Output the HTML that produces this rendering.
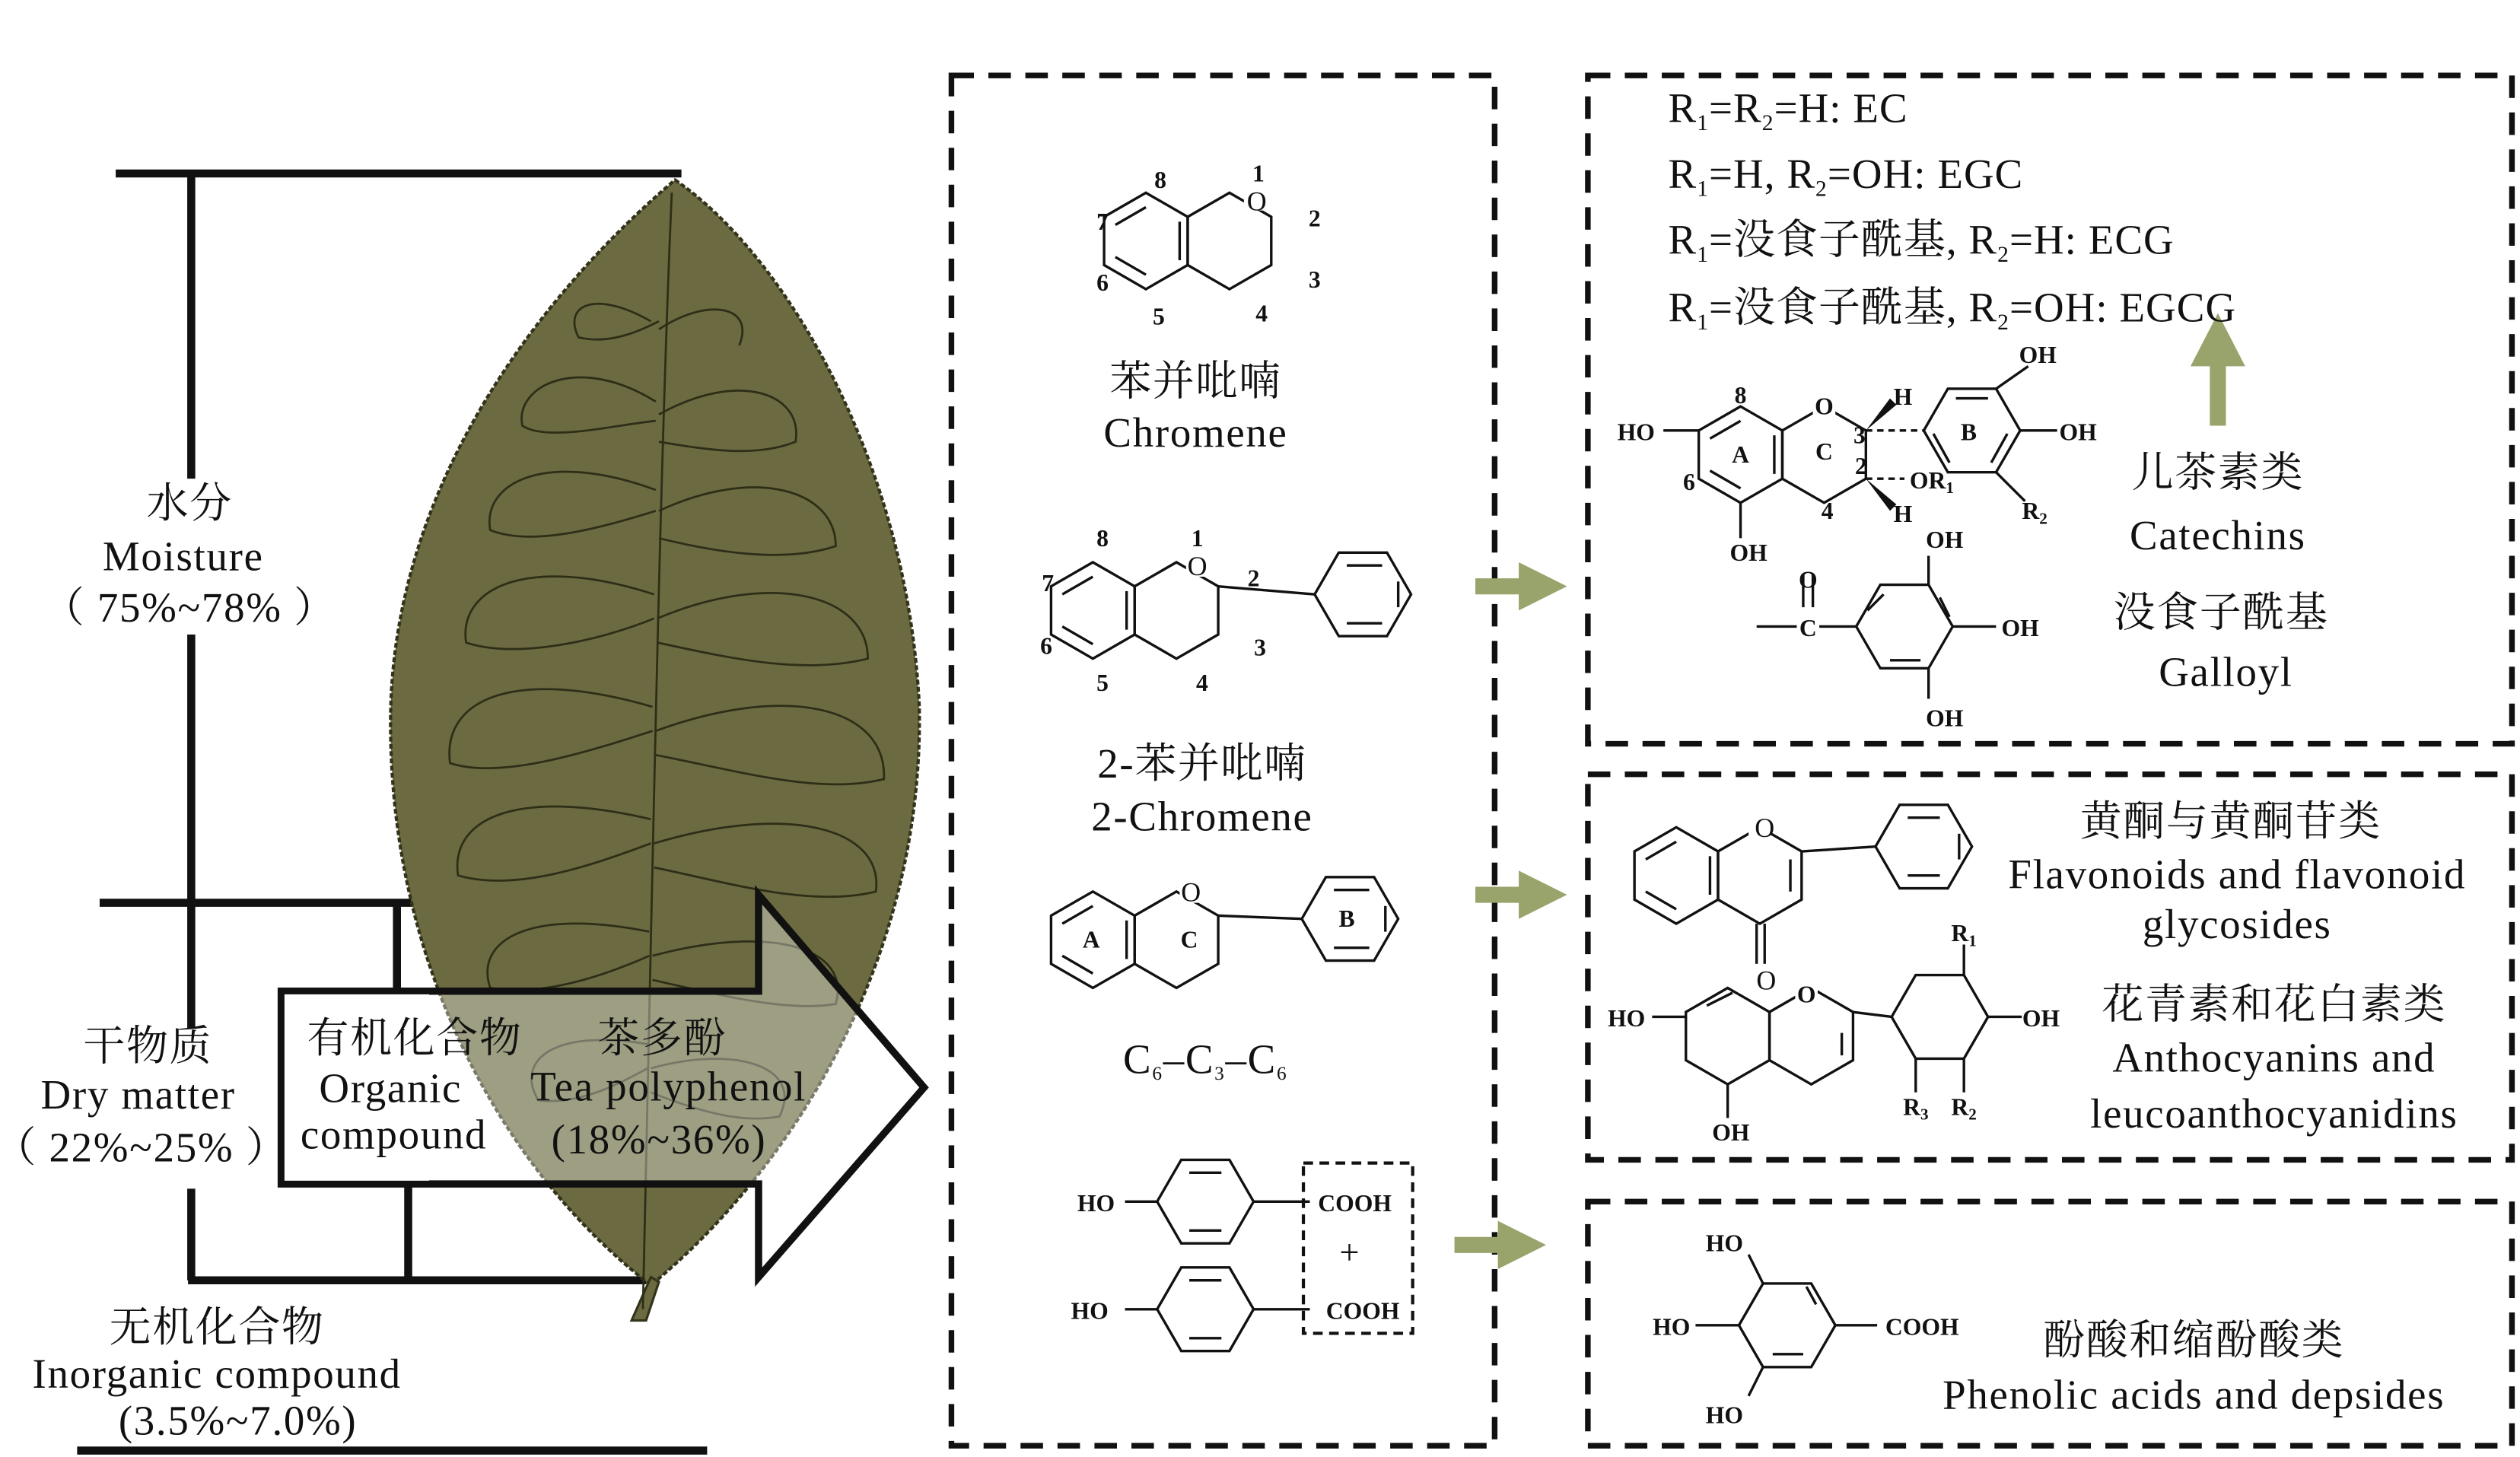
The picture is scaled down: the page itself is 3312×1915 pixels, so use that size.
<!DOCTYPE html>
<html><head><meta charset="utf-8"><style>
html,body{margin:0;padding:0;background:#fff;}
svg{display:block;}
text{font-family:"Liberation Serif","Noto Serif CJK SC","Noto Sans CJK SC",serif;fill:#111;}
.t{font-size:26px;text-anchor:middle;letter-spacing:0.8px;}
.s{font-size:15px;font-weight:bold;text-anchor:middle;letter-spacing:0;}
.b{stroke:#111;stroke-width:1.6;fill:none;}
</style></head><body>
<svg width="3312" height="1915" viewBox="0 0 1568 907" preserveAspectRatio="none" xmlns="http://www.w3.org/2000/svg">
<defs>
<polygon id="h" points="0,-30 26,-15 26,15 0,30 -26,15 -26,-15" class="b"/>
<polygon id="hr" points="30,0 15,26 -15,26 -30,0 -15,-26 15,-26" class="b"/>
</defs>
<g stroke="#111" stroke-width="5" fill="none">
<line x1="72" y1="108" x2="424" y2="108"/>
<line x1="119" y1="108" x2="119" y2="298"/>
<line x1="119" y1="395" x2="119" y2="640"/>
<line x1="119" y1="740" x2="119" y2="797"/>
<line x1="62" y1="562" x2="265" y2="562"/>
<line x1="247" y1="562" x2="247" y2="617"/>
<line x1="254" y1="737" x2="254" y2="797"/>
<line x1="117" y1="797" x2="402" y2="797"/>
<line x1="48" y1="903" x2="440" y2="903"/>
</g>
<path d="M420,112 C490,160 565,290 572,440 C575,600 490,730 405,800 C320,735 243,610 243,450 C243,300 340,180 420,112 Z" fill="#6b6a40" stroke="#33331c" stroke-width="2" stroke-dasharray="3,1.5"/>
<path d="M405,795 L393,822 L402,822 L410,798 Z" fill="#6b6a40" stroke="#33331c" stroke-width="1.5"/>
<g stroke="#2e2e18" stroke-width="1.3" fill="none">
<path d="M418,120 C410,300 405,600 400,815"/>
<path d="M405,200 C370,180 350,190 360,210 C380,215 400,205 410,200"/>
<path d="M410,205 C440,185 470,190 460,215"/>
<path d="M408,250 C360,220 320,240 325,265 C340,275 380,265 408,262"/>
<path d="M410,258 C460,230 500,245 495,275 C470,285 440,280 410,275"/>
<path d="M408,305 C340,280 300,300 305,330 C330,340 370,330 408,318"/>
<path d="M410,318 C470,290 520,305 520,340 C490,350 450,345 410,335"/>
<path d="M407,370 C330,345 285,365 290,400 C320,410 370,400 407,385"/>
<path d="M409,385 C480,355 540,370 540,410 C500,420 455,410 409,400"/>
<path d="M406,440 C320,415 275,435 280,475 C310,485 360,470 406,455"/>
<path d="M408,455 C490,425 552,440 550,485 C510,495 460,480 408,470"/>
<path d="M405,510 C320,490 280,510 285,545 C320,555 365,540 405,525"/>
<path d="M407,525 C490,500 550,515 545,555 C505,565 455,550 407,540"/>
<path d="M404,580 C330,565 295,585 305,615 C335,620 370,610 404,595"/>
<path d="M406,595 C480,575 530,590 520,625 C490,630 450,620 406,610"/>
<path d="M403,650 C345,640 320,660 335,685 C360,688 385,675 403,665"/>
<path d="M405,665 C460,650 500,665 485,695 C460,700 430,690 405,680"/>
</g>
<polygon points="175,617 472,617 472,557 575,677 472,795 472,737 175,737" fill="#fff" fill-opacity="0.35" stroke="#111" stroke-width="4.5"/>
<rect x="177" y="619" width="90" height="116" fill="#fff"/>
<text class="t" x="118" y="322">水分</text>
<text class="t" x="114" y="355">Moisture</text>
<text class="t" x="118" y="387">（ 75%~78% ）</text>
<text class="t" x="92" y="660">干物质</text>
<text class="t" x="86" y="690">Dry matter</text>
<text class="t" x="88" y="723">（ 22%~25% ）</text>
<text class="t" x="258" y="655">有机化合物</text>
<text class="t" x="243" y="686">Organic</text>
<text class="t" x="245" y="715">compound</text>
<text class="t" x="412" y="655">茶多酚</text>
<text class="t" x="416" y="685">Tea polyphenol</text>
<text class="t" x="410" y="718">(18%~36%)</text>
<text class="t" x="135" y="835">无机化合物</text>
<text class="t" x="135" y="864">Inorganic compound</text>
<text class="t" x="148" y="893">(3.5%~7.0%)</text>
<g stroke="#111" stroke-width="3.5" fill="none" stroke-dasharray="14,9">
<rect x="592" y="47" width="338" height="853"/>
<rect x="988" y="47" width="575" height="416"/>
<rect x="988" y="482" width="575" height="240"/>
<rect x="988" y="748" width="575" height="152"/>
</g>
<g fill="#98a46b">
<polygon points="918,360 945,360 945,350 975,365 945,380 945,370 918,370"/>
<polygon points="918,552 945,552 945,542 975,557 945,572 945,562 918,562"/>
<polygon points="905,770 932,770 932,760 962,775 932,790 932,780 905,780"/>
<polygon points="1375,265 1375,228 1363,228 1380,195 1397,228 1385,228 1385,265"/>
</g>
<use href="#h" x="713" y="150"/><use href="#h" x="765" y="150"/>
<g class="b"><line x1="694" y1="140" x2="713" y2="129"/><line x1="694" y1="160" x2="713" y2="171"/><line x1="734" y1="138" x2="734" y2="162"/></g>
<rect x="774" y="115" width="14" height="16" fill="#fff"/>
<text class="s" x="782" y="131" style="font-weight:normal;font-size:17px">O</text>
<g style="font-size:14px"><text class="s" x="722" y="117">8</text><text class="s" x="783" y="113">1</text><text class="s" x="818" y="141">2</text><text class="s" x="818" y="179">3</text><text class="s" x="785" y="200">4</text><text class="s" x="721" y="202">5</text><text class="s" x="686" y="181">6</text><text class="s" x="686" y="143">7</text></g>
<text class="t" x="744" y="246">苯并吡喃</text>
<text class="t" x="744" y="278">Chromene</text>
<use href="#h" x="680" y="380"/><use href="#h" x="732" y="380"/><use href="#hr" x="848" y="370"/>
<g class="b"><line x1="661" y1="370" x2="680" y2="359"/><line x1="661" y1="390" x2="680" y2="401"/><line x1="701" y1="368" x2="701" y2="392"/><line x1="758" y1="365" x2="818" y2="370"/><line x1="838" y1="352" x2="860" y2="352"/><line x1="838" y1="388" x2="860" y2="388"/><line x1="870" y1="362" x2="870" y2="378"/></g>
<rect x="738" y="343" width="14" height="16" fill="#fff"/>
<text class="s" x="745" y="358" style="font-weight:normal;font-size:17px">O</text>
<g style="font-size:14px"><text class="s" x="686" y="340">8</text><text class="s" x="745" y="340">1</text><text class="s" x="780" y="365">2</text><text class="s" x="784" y="408">3</text><text class="s" x="748" y="430">4</text><text class="s" x="686" y="430">5</text><text class="s" x="651" y="407">6</text><text class="s" x="652" y="368">7</text></g>
<text class="t" x="748" y="484">2-苯并吡喃</text>
<text class="t" x="748" y="517">2-Chromene</text>
<use href="#h" x="680" y="585"/><use href="#h" x="732" y="585"/><use href="#hr" x="840" y="572"/>
<g class="b"><line x1="661" y1="575" x2="680" y2="564"/><line x1="661" y1="595" x2="680" y2="606"/><line x1="701" y1="573" x2="701" y2="597"/><line x1="758" y1="570" x2="810" y2="572"/><line x1="830" y1="554" x2="852" y2="554"/><line x1="830" y1="590" x2="852" y2="590"/><line x1="862" y1="564" x2="862" y2="580"/></g>
<rect x="734" y="546" width="14" height="16" fill="#fff"/>
<text class="s" x="741" y="561" style="font-weight:normal;font-size:17px">O</text>
<text class="s" x="679" y="590">A</text><text class="s" x="740" y="590">C</text><text class="s" x="838" y="577">B</text>
<text class="t" x="750" y="668">C<tspan font-size="12" dy="4">6</tspan><tspan dy="-4">–C</tspan><tspan font-size="12" dy="4">3</tspan><tspan dy="-4">–C</tspan><tspan font-size="12" dy="4">6</tspan></text>
<use href="#hr" x="750" y="748"/><use href="#hr" x="750" y="815"/>
<g class="b"><line x1="700" y1="748" x2="720" y2="748"/><line x1="780" y1="748" x2="815" y2="748"/><line x1="700" y1="815" x2="720" y2="815"/><line x1="780" y1="815" x2="815" y2="815"/><line x1="740" y1="730" x2="760" y2="730"/><line x1="740" y1="766" x2="760" y2="766"/><line x1="740" y1="797" x2="760" y2="797"/><line x1="740" y1="833" x2="760" y2="833"/></g>
<rect x="811" y="724" width="68" height="106" fill="none" stroke="#111" stroke-width="2" stroke-dasharray="6,4"/>
<g style="font-size:15px"><text class="s" x="682" y="754">HO</text><text class="s" x="843" y="754">COOH</text><text class="s" x="678" y="821">HO</text><text class="s" x="848" y="821">COOH</text></g>
<text class="t" x="840" y="787" style="font-size:22px">+</text>
<g style="font-size:26px;letter-spacing:0.5px;font-family:'Liberation Serif','Noto Serif CJK SC',serif">
<text x="1038" y="76">R<tspan font-size="14" dy="5">1</tspan><tspan dy="-5">=R</tspan><tspan font-size="14" dy="5">2</tspan><tspan dy="-5">=H: EC</tspan></text>
<text x="1038" y="117">R<tspan font-size="14" dy="5">1</tspan><tspan dy="-5">=H, R</tspan><tspan font-size="14" dy="5">2</tspan><tspan dy="-5">=OH: EGC</tspan></text>
<text x="1038" y="158">R<tspan font-size="14" dy="5">1</tspan><tspan dy="-5">=没食子酰基, R</tspan><tspan font-size="14" dy="5">2</tspan><tspan dy="-5">=H: ECG</tspan></text>
<text x="1038" y="200">R<tspan font-size="14" dy="5">1</tspan><tspan dy="-5">=没食子酰基, R</tspan><tspan font-size="14" dy="5">2</tspan><tspan dy="-5">=OH: EGCG</tspan></text>
</g>
<use href="#h" x="1083" y="283"/><use href="#h" x="1135" y="283"/><use href="#hr" x="1227" y="268"/>
<g class="b"><line x1="1064" y1="273" x2="1083" y2="262"/><line x1="1064" y1="293" x2="1083" y2="304"/><line x1="1104" y1="271" x2="1104" y2="295"/><line x1="1035" y1="268" x2="1057" y2="268"/><line x1="1083" y1="313" x2="1083" y2="335"/>
<line x1="1161" y1="268" x2="1197" y2="268" stroke-dasharray="4,3"/><line x1="1161" y1="298" x2="1185" y2="298" stroke-dasharray="4,3"/>
<line x1="1242" y1="242" x2="1262" y2="228"/><line x1="1257" y1="268" x2="1280" y2="268"/><line x1="1242" y1="294" x2="1260" y2="312"/>
<line x1="1217" y1="248" x2="1237" y2="248"/><line x1="1203" y1="270" x2="1213" y2="288"/><line x1="1249" y1="270" x2="1239" y2="288"/></g>
<polygon points="1161,268 1176,248 1180,252" fill="#111"/><polygon points="1161,298 1176,318 1180,314" fill="#111"/>
<rect x="1128" y="245" width="14" height="14" fill="#fff"/>
<g style="font-size:15px"><text class="s" x="1135" y="258">O</text><text class="s" x="1018" y="274">HO</text><text class="s" x="1083" y="251">8</text><text class="s" x="1051" y="305">6</text><text class="s" x="1137" y="323">4</text><text class="s" x="1083" y="288">A</text><text class="s" x="1135" y="286">C</text><text class="s" x="1225" y="274">B</text><text class="s" x="1157" y="276">3</text><text class="s" x="1158" y="295">2</text><text class="s" x="1184" y="252">H</text><text class="s" x="1184" y="325">H</text><text class="s" x="1202" y="304">OR<tspan font-size="10" dy="3">1</tspan></text><text class="s" x="1268" y="226">OH</text><text class="s" x="1293" y="274">OH</text><text class="s" x="1266" y="323">R<tspan font-size="10" dy="3">2</tspan></text><text class="s" x="1088" y="349">OH</text></g>
<use href="#hr" x="1185" y="390"/>
<g class="b"><line x1="1093" y1="390" x2="1118" y2="390"/><line x1="1132" y1="390" x2="1155" y2="390"/><line x1="1122" y1="358" x2="1122" y2="378"/><line x1="1128" y1="358" x2="1128" y2="378"/><line x1="1200" y1="364" x2="1200" y2="346"/><line x1="1215" y1="390" x2="1242" y2="390"/><line x1="1200" y1="416" x2="1200" y2="435"/><line x1="1162" y1="380" x2="1172" y2="370"/><line x1="1207" y1="372" x2="1213" y2="384"/><line x1="1176" y1="411" x2="1195" y2="411"/></g>
<g style="font-size:15px"><text class="s" x="1125" y="366">O</text><text class="s" x="1125" y="396">C</text><text class="s" x="1210" y="341">OH</text><text class="s" x="1257" y="396">OH</text><text class="s" x="1210" y="452">OH</text></g>
<text class="t" x="1380" y="303">儿茶素类</text>
<text class="t" x="1380" y="342">Catechins</text>
<text class="t" x="1382" y="390">没食子酰基</text>
<text class="t" x="1385" y="427">Galloyl</text>
<use href="#h" x="1043" y="545"/><use href="#h" x="1095" y="545"/><use href="#hr" x="1197" y="527"/>
<g class="b"><line x1="1024" y1="535" x2="1043" y2="524"/><line x1="1024" y1="555" x2="1043" y2="566"/><line x1="1064" y1="533" x2="1064" y2="557"/><line x1="1121" y1="530" x2="1167" y2="527"/><line x1="1114" y1="535" x2="1114" y2="555"/><line x1="1093" y1="575" x2="1093" y2="600"/><line x1="1098" y1="575" x2="1098" y2="600"/><line x1="1187" y1="509" x2="1207" y2="509"/><line x1="1187" y1="545" x2="1207" y2="545"/><line x1="1219" y1="519" x2="1219" y2="535"/></g>
<rect x="1088" y="507" width="14" height="15" fill="#fff"/>
<text class="s" x="1098" y="521" style="font-weight:normal;font-size:17px">O</text>
<text class="s" x="1099" y="616" style="font-weight:normal;font-size:17px">O</text>
<text class="t" x="1388" y="520">黄酮与黄酮苷类</text>
<text class="t" x="1392" y="553">Flavonoids and flavonoid</text>
<text class="t" x="1392" y="584">glycosides</text>
<use href="#h" x="1075" y="645"/><use href="#h" x="1127" y="645"/><use href="#hr" x="1207" y="633"/>
<g class="b"><line x1="1028" y1="633" x2="1049" y2="633"/><line x1="1075" y1="675" x2="1075" y2="696"/><line x1="1153" y1="630" x2="1177" y2="633"/><line x1="1237" y1="633" x2="1258" y2="633"/><line x1="1222" y1="607" x2="1222" y2="588"/><line x1="1192" y1="659" x2="1192" y2="680"/><line x1="1222" y1="659" x2="1222" y2="680"/><line x1="1146" y1="643" x2="1146" y2="657"/><line x1="1062" y1="626" x2="1078" y2="618"/></g>
<rect x="1117" y="610" width="14" height="14" fill="#fff"/>
<g style="font-size:15px"><text class="s" x="1124" y="624">O</text><text class="s" x="1012" y="639">HO</text><text class="s" x="1077" y="710">OH</text><text class="s" x="1270" y="639">OH</text><text class="s" x="1222" y="586">R<tspan font-size="10" dy="3">1</tspan></text><text class="s" x="1192" y="694">R<tspan font-size="10" dy="3">3</tspan></text><text class="s" x="1222" y="694">R<tspan font-size="10" dy="3">2</tspan></text></g>
<text class="t" x="1415" y="634">花青素和花白素类</text>
<text class="t" x="1415" y="667">Anthocyanins and</text>
<text class="t" x="1415" y="702">leucoanthocyanidins</text>
<use href="#hr" x="1112" y="825"/>
<g class="b"><line x1="1097" y1="799" x2="1088" y2="781"/><line x1="1082" y1="825" x2="1055" y2="825"/><line x1="1097" y1="851" x2="1088" y2="869"/><line x1="1142" y1="825" x2="1168" y2="825"/><line x1="1103" y1="843" x2="1122" y2="843"/><line x1="1130" y1="812" x2="1124" y2="801"/></g>
<g style="font-size:15px"><text class="s" x="1073" y="779">HO</text><text class="s" x="1040" y="831">HO</text><text class="s" x="1073" y="886">HO</text><text class="s" x="1196" y="831">COOH</text></g>
<text class="t" x="1365" y="843">酚酸和缩酚酸类</text>
<text class="t" x="1365" y="877">Phenolic acids and depsides</text>
</svg>
</body></html>
